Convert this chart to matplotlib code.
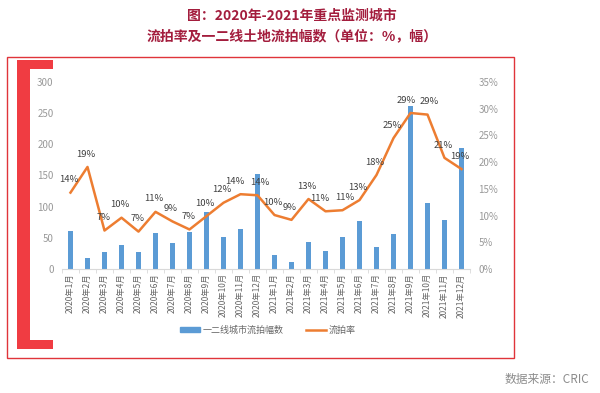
import matplotlib.pyplot as plt
from matplotlib.patches import Rectangle
from matplotlib.lines import Line2D

plt.rcParams['font.family'] = ['Noto Sans CJK SC', 'DejaVu Sans']

months = [f'2020年{m}月' for m in range(1, 13)] + [f'2021年{m}月' for m in range(1, 13)]
counts = [61, 17, 27, 38, 27, 57, 41, 59, 92, 51, 64, 152,
          23, 11, 44, 29, 52, 77, 35, 56, 262, 106, 79, 194]
rates = [14.3, 19.1, 7.2, 9.6, 7.0, 10.7, 8.9, 7.4, 9.9, 12.4, 14.0, 13.8,
         10.1, 9.2, 13.1, 10.8, 11.0, 12.9, 17.6, 24.5, 29.2, 28.9, 20.8, 18.7]
rate_labels = ['14%', '19%', '7%', '10%', '7%', '11%', '9%', '7%', '10%', '12%', '14%', '14%',
               '10%', '9%', '13%', '11%', '11%', '13%', '18%', '25%', '29%', '29%', '21%', '19%']

blue = '#5b9bd5'
orange = '#ed7d31'
gray = '#999999'

fig = plt.figure(figsize=(6, 3.93), dpi=100)

# frame and red bracket
fig.patches.append(Rectangle((7 / 600, 1 - 358 / 393), 507 / 600, 301 / 393,
                             transform=fig.transFigure, fill=False, ec='#e0343a', lw=1))
bracket = '#f03c42'
fig.patches.append(Rectangle((17 / 600, 1 - 349 / 393), 13 / 600, 289 / 393,
                             transform=fig.transFigure, color=bracket, lw=0))
fig.patches.append(Rectangle((17 / 600, 1 - 69 / 393), 36 / 600, 9 / 393,
                             transform=fig.transFigure, color=bracket, lw=0))
fig.patches.append(Rectangle((17 / 600, 1 - 349 / 393), 36 / 600, 9 / 393,
                             transform=fig.transFigure, color=bracket, lw=0))

fig.text(0.487, 1 - 16 / 393, '图：2020年-2021年重点监测城市', ha='center', va='center',
         fontsize=10, fontweight='bold', color='#a31d3d')
fig.text(0.487, 1 - 36 / 393, '流拍率及一二线土地流拍幅数（单位：%，幅）', ha='center', va='center',
         fontsize=10, fontweight='bold', color='#a31d3d')
fig.text(589 / 600, 1 - 379 / 393, '数据来源：CRIC', ha='right', va='center',
         fontsize=8.5, color='#8c8c8c')

ax = fig.add_axes([62 / 600, 1 - 269 / 393, 408 / 600, 187 / 393])
x = list(range(len(months)))
ax.bar(x, counts, width=0.3, color=blue, zorder=2)
ax.set_xlim(-0.5, len(months) - 0.5)
ax.set_ylim(0, 300)
ax.set_yticks(range(0, 301, 50))
ax.set_xticks(x)
ax.set_xticklabels(months, rotation=90, fontsize=6, color='#666666')
ax.set_xticks([i + 0.5 for i in range(-1, len(months))], minor=True)
ax.tick_params(axis='x', which='major', length=0, pad=3)
ax.tick_params(axis='x', which='minor', length=3, color='#d9d9d9')
ax.tick_params(axis='y', length=0, labelsize=7, labelcolor=gray, pad=6)
for s in ['top', 'right', 'left']:
    ax.spines[s].set_visible(False)
ax.spines['bottom'].set_color('#d9d9d9')

ax2 = ax.twinx()
ax2.plot(x, rates, color=orange, lw=1.8, zorder=3)
ax2.set_ylim(0, 35)
ax2.set_yticks(range(0, 36, 5))
ax2.set_yticklabels([f'{v}%' for v in range(0, 36, 5)])
ax2.tick_params(axis='y', length=0, labelsize=7, labelcolor=gray, pad=6)
for s in ax2.spines.values():
    s.set_visible(False)
# small sideways nudges so neighbouring labels don't collide
nudge = {10: -3, 11: 3, 15: -3, 16: 3, 20: -2, 21: 2}
for xi, r, lab in zip(x, rates, rate_labels):
    ax2.annotate(lab, (xi, r), xytext=(-1 + nudge.get(xi, 0), 6), textcoords='offset points',
                 ha='center', va='bottom', fontsize=6.8, color='#404040')

handles = [Rectangle((0, 0), 1, 1, color=blue), Line2D([0], [0], color=orange, lw=1.8)]
fig.legend(handles, ['一二线城市流拍幅数', '流拍率'], loc='center',
           bbox_to_anchor=(268 / 600, 1 - 330 / 393), ncol=2, frameon=False,
           fontsize=6.5, labelcolor='#666666', handlelength=2.2, handleheight=0.5,
           columnspacing=2.5, handletextpad=0.3)

fig.savefig('out.png', dpi=100)
